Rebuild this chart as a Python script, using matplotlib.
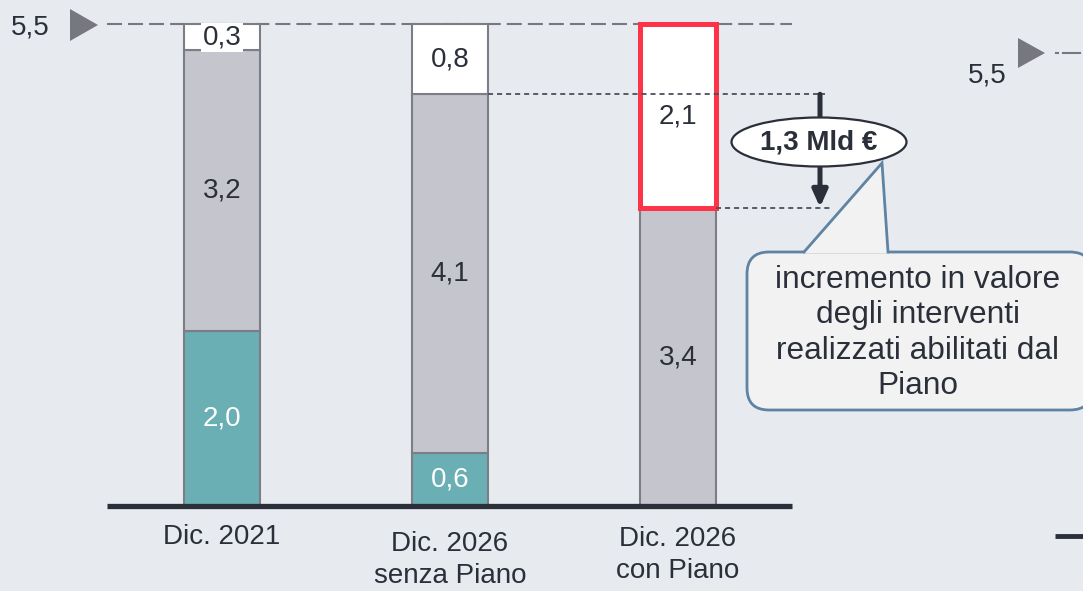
import matplotlib
matplotlib.use("Agg")
import matplotlib.pyplot as plt
from matplotlib.patches import FancyBboxPatch, Ellipse, Polygon

plt.rcParams['font.family'] = ['Liberation Sans', 'DejaVu Sans']

# ---------------- data ----------------
categories = ["Dic. 2021", "Dic. 2026\nsenza Piano", "Dic. 2026\ncon Piano"]
teal_vals = [2.0, 0.6, 0.0]
gray_vals = [3.2, 4.1, 3.4]
white_vals = [0.3, 0.8, 2.1]
top_value = 5.5
delta_label = "1,3 Mld €"
callout_text = "incremento in valore\ndegli interventi\nrealizzati abilitati dal\nPiano"

# ---------------- style ----------------
BG = "#e7eaef"
TEAL = "#6aafb3"
GRAY = "#c5c5ce"
EDGE = "#7d7d87"
RED = "#ff3347"
DARK = "#2a2f3a"
DASH = "#777780"

W, H = 1083, 591
fig = plt.figure(figsize=(W / 100, H / 100), dpi=100)
fig.patch.set_facecolor(BG)

PXX = 228.0   # pixels per x unit
PXY = 87.6    # pixels per value unit
X0, Y0 = 222, 506  # pixel position of (0, 0)

ax = fig.add_axes([0, 0, 1, 1])
ax.set_xlim(-X0 / PXX, (W - X0) / PXX)
ax.set_ylim(-(H - Y0) / PXY, Y0 / PXY)
ax.axis('off')

ov = fig.add_axes([0, 0, 1, 1], zorder=5)
ov.set_xlim(0, W)
ov.set_ylim(H, 0)
ov.axis('off')
ov.patch.set_alpha(0)

xs = list(range(len(categories)))
bw = 0.333
FS = 20


def fmt(v):
    return f"{v:.1f}".replace('.', ',')


# dashed line at 5.5
ax.plot([-0.504, 2.5], [top_value, top_value], color=DASH, lw=1.5,
        dashes=(7.2, 2.9), zorder=1)

# bars
for i in xs:
    b = 0
    if teal_vals[i] > 0:
        ax.bar(i, teal_vals[i], bw, bottom=b, color=TEAL, edgecolor=EDGE, lw=1.5, zorder=2)
        ax.text(i, b + teal_vals[i] / 2, fmt(teal_vals[i]),
                ha='center', va='center', fontsize=FS, color='white', zorder=4)
        b += teal_vals[i]
    ax.bar(i, gray_vals[i], bw, bottom=b, color=GRAY, edgecolor=EDGE, lw=1.5, zorder=2)
    ax.text(i, b + gray_vals[i] / 2, fmt(gray_vals[i]),
            ha='center', va='center', fontsize=FS, color=DARK, zorder=4)
    b += gray_vals[i]
    if i == 2:
        ax.bar(i, white_vals[i], bw, bottom=b, color='white', edgecolor=RED, lw=3.6, zorder=3)
        ax.text(i, b + white_vals[i] / 2, fmt(white_vals[i]),
                ha='center', va='center', fontsize=FS, color=DARK, zorder=4)
    else:
        ax.bar(i, white_vals[i], bw, bottom=b, color='white', edgecolor=EDGE, lw=1.5, zorder=2)
        kw = {}
        if white_vals[i] < 0.5:
            kw = dict(bbox=dict(boxstyle='square,pad=0.05', fc='white', ec='none'))
        ax.text(i, b + white_vals[i] / 2, fmt(white_vals[i]),
                ha='center', va='center', fontsize=FS, color=DARK, zorder=4, **kw)

# baseline
ax.plot([-0.504, 2.5], [0, 0], color=DARK, lw=3.8, solid_capstyle='butt', zorder=4)

# category labels
label_centers_px = [537, 560, 555]
for i, lab in enumerate(categories):
    ax.text(i, (Y0 - label_centers_px[i]) / PXY, lab, ha='center', va='center',
            fontsize=FS, color=DARK, linespacing=1.32)

# dotted guide lines
lvl_hi = teal_vals[1] + gray_vals[1]
lvl_lo = gray_vals[2]
ax.plot([1 + bw / 2, (825 - X0) / PXX], [lvl_hi, lvl_hi], color="#4a4f5a", lw=1.3,
        dashes=(2.8, 2.2), zorder=5)
ax.plot([2 + bw / 2, (830 - X0) / PXX], [lvl_lo, lvl_lo], color="#4a4f5a", lw=1.3,
        dashes=(2.8, 2.2), zorder=5)

# arrow
xa = (820 - X0) / PXX
ax.annotate("", xy=(xa, lvl_lo + 0.01), xytext=(xa, lvl_hi),
            arrowprops=dict(arrowstyle='-|>,head_length=1.0,head_width=0.45',
                            color=DARK, lw=3.6, shrinkA=0, shrinkB=0), zorder=6)

# ellipse label
ov.add_patch(Ellipse((819, 142), 175, 49, fc='white', ec=DARK, lw=1.6, zorder=7))
ov.text(819, 143, delta_label, ha='center', va='center', fontsize=FS,
        fontweight='bold', color=DARK, zorder=8)

# left 5,5 marker
ov.add_patch(Polygon([[70, 9], [70, 41], [98, 25]], closed=True, fc=DASH, ec='none'))
ov.text(30, 27, "5,5", ha='center', va='center', fontsize=FS, color=DARK)

# right 5,5 marker (partial, clipped)
ov.add_patch(Polygon([[1018, 38], [1018, 68], [1045, 53]], closed=True, fc=DASH, ec='none'))
ov.text(987, 76, "5,5", ha='center', va='center', fontsize=FS, color=DARK)
ov.plot([1056, 1058], [53, 53], color=DASH, lw=1.5)
ov.plot([1063, 1080], [53, 53], color=DASH, lw=1.5)

# right bottom dark stub
ov.plot([1055, 1083], [536, 536], color=DARK, lw=3.5, solid_capstyle='butt')

# callout box
CF = "#f2f2f2"
CE = "#5f83a3"
box = FancyBboxPatch((747, 252), 345, 158, boxstyle='round,pad=0,rounding_size=22',
                     fc=CF, ec=CE, lw=2, zorder=6)
ov.add_patch(box)
ov.add_patch(Polygon([[804, 253.5], [882, 163], [888, 253.5]], closed=True, fc=CF,
                     ec='none', zorder=7))
ov.plot([804, 882, 888], [252, 163, 252], color=CE, lw=2, zorder=7,
        solid_joinstyle='miter')
ov.text(918, 333, callout_text, ha='center', va='center', fontsize=22.8,
        color=DARK, linespacing=1.24, zorder=8)

fig.savefig("out.png", dpi=100, facecolor=BG)
